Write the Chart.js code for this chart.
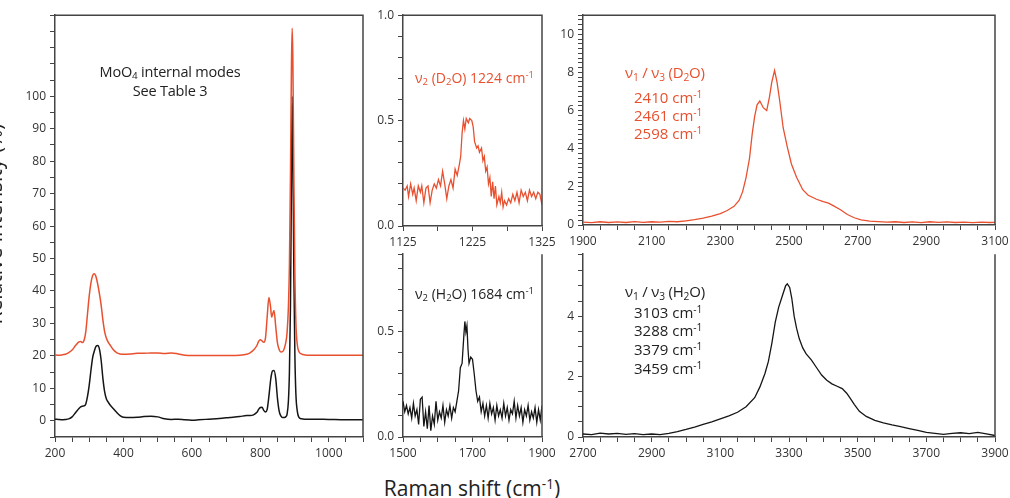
<!DOCTYPE html>
<html>
<head>
<meta charset="utf-8">
<script src="https://cdn.jsdelivr.net/npm/chart.js@4.4.0/dist/chart.umd.min.js"></script>
<style>
    body { margin: 0; background: #fff; }
    #page { position: relative; width: 1010px; height: 498px; overflow: hidden; font-family: 'Open Sans', sans-serif; color: #222; }
    .panel { position: absolute; }
    .note { position: absolute; white-space: nowrap; line-height: 1; }
    .red { color: #e8502f; }
    .note sub { font-size: 0.68em; vertical-align: -0.25em; line-height: 0; }
    .note sup { font-size: 0.68em; vertical-align: 0.5em; line-height: 0; }
    .axis-title { position: absolute; font-size: 21px; line-height: 26px; text-align: center; white-space: nowrap; color: #222; }
    .axis-title sup { font-size: 0.65em; vertical-align: 0.55em; line-height: 0; }
</style>
</head>
<body>
<div id="page">
    <div class="note" style="left:70px; top:65px; width:200px; text-align:center; font-size:14.5px; letter-spacing:-0.2px;">MoO<sub>4</sub> internal modes</div>
    <div class="note" style="left:70px; top:84px; width:200px; text-align:center; font-size:14.5px; letter-spacing:-0.2px;">See Table 3</div>

    <div class="note red" style="left:415px; top:71px; font-size:14px;">&nu;<sub>2</sub> (D<sub>2</sub>O) 1224 cm<sup>-1</sup></div>
    <div class="note" style="left:415px; top:287px; font-size:14px;">&nu;<sub>2</sub> (H<sub>2</sub>O) 1684 cm<sup>-1</sup></div>

    <div class="note red" style="left:625px; top:65px; font-size:15px; letter-spacing:-0.2px;">&nu;<sub>1</sub> / &nu;<sub>3</sub> (D<sub>2</sub>O)</div>
    <div class="note red" style="left:634px; top:90px; font-size:15px;">2410 cm<sup>-1</sup></div>
    <div class="note red" style="left:634px; top:108px; font-size:15px;">2461 cm<sup>-1</sup></div>
    <div class="note red" style="left:634px; top:126px; font-size:15px;">2598 cm<sup>-1</sup></div>

    <div class="note" style="left:625px; top:284px; font-size:15px; letter-spacing:-0.2px;">&nu;<sub>1</sub> / &nu;<sub>3</sub> (H<sub>2</sub>O)</div>
    <div class="note" style="left:634px; top:305px; font-size:15px;">3103 cm<sup>-1</sup></div>
    <div class="note" style="left:634px; top:323px; font-size:15px;">3288 cm<sup>-1</sup></div>
    <div class="note" style="left:634px; top:342px; font-size:15px;">3379 cm<sup>-1</sup></div>
    <div class="note" style="left:634px; top:361px; font-size:15px;">3459 cm<sup>-1</sup></div>

    <div class="axis-title" style="left:-136px; top:211px; width:260px; transform:rotate(-90deg);">Relative intensity (%)</div>
    <div class="axis-title" style="left:322px; top:475px; width:300px;">Raman shift (cm<sup>-1</sup>)</div>
</div>

<script>
const RED = '#e8502f';
const BLACK = '#151515';
const AXIS = '#444';

// MoO4 internal modes (left panel), shared x for both traces
const moX = [
    200, 210, 220, 230, 240, 250, 260,
    270, 275, 280, 285, 290, 295, 300, 305, 310, 315, 320, 325, 330, 335, 340, 345, 350, 355, 360,
    370, 380, 390, 400,
    420, 440, 460, 480, 500, 520, 540, 560, 580, 600, 620,
    650, 680, 710, 740,
    760, 770, 780, 790, 795, 800, 805, 810, 815, 820, 825, 830, 833, 835, 840, 845, 850, 855, 860, 865, 870, 875,
    878, 882, 885, 888, 891, 893, 895, 898, 901, 904, 908, 912, 920,
    930, 950, 1000, 1050, 1100
];
const moH2O = [
    0.5, 0.4, 0.3, 0.4, 0.6, 1.2, 2.5,
    3.8, 4.3, 4.5, 4.6, 5.2, 7.5, 11, 15.5, 19.5, 21.5, 23, 23.2, 22, 18.5, 13, 9, 6.8, 5.8, 5,
    3.8, 2.6, 1.6, 1.1,
    1.0, 1.1, 1.3, 1.4, 1.2, 0.6, 0.4, 0.5, 0.3, 0.2, 0.3,
    0.5, 0.7, 1.0, 1.3,
    1.6, 1.6, 1.8, 2.6, 3.5, 4.1, 4.2, 3.2, 2.7, 3.5, 7.5, 12.5, 14.5, 15.3, 15.5, 13, 7, 3, 1.5, 1, 1, 1.3,
    2, 6, 15, 35, 75, 100, 85, 45, 20, 8, 3, 1.2, 0.6,
    0.5, 0.5, 0.4, 0.3, 0.3
];
const moD2O = [
    20.3, 20.2, 20.3, 20.5, 21, 21.8, 23.2,
    24.3, 24.4, 24.1, 24.8, 27.5, 33, 38.5, 42.5, 44.8, 45.3, 44.3, 42, 39, 35.5, 31, 27.5, 25.5, 24.3, 23.5,
    22, 21, 20.6, 20.5,
    20.6, 20.8, 20.8, 20.9, 20.9, 20.7, 20.9, 20.6, 20.2, 20.1, 20.1,
    20.1, 20.1, 20.1, 20.2,
    20.5, 20.9, 21.8, 23.2, 24.5, 25, 24.6, 24.2, 25.5, 32, 38, 35, 32, 32.5, 34, 29, 24, 22, 21.2, 21.3, 22.3, 24.5,
    27, 35, 48, 75, 110, 121, 112, 75, 45, 30, 23.5, 21.5, 20.6,
    20.3, 20.2, 20.2, 20.2, 20.2
];

// nu2 (D2O) bend
const bendDX = [
    1125, 1128, 1131, 1133, 1136, 1139, 1141, 1144, 1147, 1150, 1152, 1155, 1158, 1161, 1164, 1167,
    1170, 1173, 1176, 1179, 1182, 1185, 1188, 1191, 1194, 1197, 1200, 1203, 1206, 1208,
    1210, 1212, 1214, 1216, 1219, 1221, 1224, 1226, 1228, 1231, 1233, 1235, 1238, 1240, 1242, 1244,
    1246, 1248, 1250, 1252, 1254, 1256, 1258, 1260, 1263, 1265, 1267, 1269, 1271, 1274, 1277, 1280,
    1283, 1286, 1289, 1292, 1295, 1298, 1301, 1304, 1307, 1310, 1313, 1316, 1319, 1322, 1325
];
const bendDY = [
    0.18, 0.17, 0.19, 0.14, 0.20, 0.15, 0.18, 0.12, 0.19, 0.16, 0.19, 0.11, 0.18, 0.19, 0.11, 0.17,
    0.20, 0.18, 0.22, 0.19, 0.26, 0.20, 0.13, 0.19, 0.22, 0.18, 0.27, 0.24, 0.29, 0.33,
    0.44, 0.50, 0.46, 0.51, 0.49, 0.51, 0.50, 0.47, 0.40, 0.37, 0.38, 0.35, 0.37, 0.31, 0.33, 0.26,
    0.28, 0.20, 0.23, 0.14, 0.21, 0.13, 0.19, 0.10, 0.14, 0.11, 0.16, 0.09, 0.12, 0.10, 0.13, 0.11,
    0.15, 0.12, 0.16, 0.11, 0.17, 0.14, 0.16, 0.12, 0.17, 0.14, 0.16, 0.13, 0.16, 0.15, 0.10
];

// nu2 (H2O) bend
const bendHX = [
    1500, 1505, 1510, 1515, 1520, 1525, 1530, 1535, 1540, 1545, 1550, 1555, 1560, 1565, 1570, 1575,
    1580, 1585, 1590, 1595, 1600, 1605, 1610, 1615, 1620, 1625, 1630, 1635, 1640, 1645, 1650, 1655,
    1660, 1665, 1670, 1675, 1678, 1681, 1684, 1687, 1690, 1695, 1700, 1705, 1710, 1715, 1720, 1725,
    1730, 1735, 1740, 1745, 1750, 1755, 1760, 1765, 1770, 1775, 1780, 1785, 1790, 1795, 1800, 1805,
    1810, 1815, 1820, 1825, 1830, 1835, 1840, 1845, 1850, 1855, 1860, 1865, 1870, 1875, 1880, 1885,
    1890, 1895, 1900
];
const bendHY = [
    0.17, 0.12, 0.15, 0.11, 0.14, 0.09, 0.16, 0.10, 0.13, 0.06, 0.18, 0.19, 0.05, 0.12, 0.04, 0.15,
    0.03, 0.10, 0.06, 0.17, 0.08, 0.12, 0.09, 0.15, 0.07, 0.13, 0.10, 0.15, 0.09, 0.14, 0.12, 0.17,
    0.22, 0.33, 0.35, 0.48, 0.55, 0.50, 0.53, 0.42, 0.35, 0.38, 0.37, 0.30, 0.22, 0.17, 0.19, 0.12,
    0.16, 0.10, 0.15, 0.09, 0.16, 0.11, 0.14, 0.08, 0.15, 0.10, 0.13, 0.09, 0.16, 0.10, 0.14, 0.08,
    0.13, 0.11, 0.17, 0.09, 0.15, 0.10, 0.14, 0.07, 0.13, 0.10, 0.15, 0.08, 0.12, 0.09, 0.14, 0.07,
    0.13, 0.08, 0.15
];

// nu1 / nu3 (D2O) stretch
const stretchDX = [
    1900, 1925, 1950, 1975, 2000, 2025, 2050, 2075, 2100, 2125, 2150, 2175, 2200, 2225, 2250, 2275,
    2300, 2320, 2340, 2355, 2365, 2375, 2385, 2393, 2400, 2407, 2415, 2425, 2435, 2443, 2450, 2458,
    2465, 2473, 2483, 2495, 2507, 2522, 2540, 2556, 2580, 2600, 2615, 2630, 2650, 2670, 2690, 2710,
    2735, 2760, 2785, 2810, 2835, 2860, 2885, 2910, 2935, 2960, 2985, 3010, 3035, 3060, 3085, 3100
];
const stretchDY = [
    0.15, 0.12, 0.17, 0.13, 0.16, 0.13, 0.18, 0.14, 0.17, 0.15, 0.19, 0.17, 0.22, 0.28, 0.36, 0.47,
    0.6, 0.76, 0.98, 1.3, 1.75, 2.5, 3.5, 4.8, 5.7, 6.3, 6.5, 6.15, 6.0, 6.7, 7.5, 8.1,
    7.5, 6.5, 5.1, 4.1, 3.2, 2.5, 1.85, 1.56, 1.35, 1.22, 1.15, 1.0, 0.8, 0.55, 0.38, 0.27,
    0.2, 0.18, 0.15, 0.17, 0.13, 0.16, 0.12, 0.17, 0.14, 0.16, 0.13, 0.15, 0.12, 0.15, 0.13, 0.14
];

// nu1 / nu3 (H2O) stretch
const stretchHX = [
    2700, 2725, 2750, 2775, 2800, 2825, 2850, 2875, 2900, 2925, 2950, 2975, 3000, 3025, 3050, 3075,
    3100, 3125, 3150, 3175, 3200, 3215, 3230, 3240, 3250, 3260, 3270, 3280, 3290, 3295, 3302, 3308,
    3315, 3322, 3330, 3340, 3350, 3365, 3380, 3395, 3410, 3425, 3440, 3455, 3468, 3480, 3490, 3505,
    3525, 3550, 3575, 3600, 3625, 3650, 3675, 3700, 3725, 3750, 3775, 3800, 3825, 3850, 3875, 3900
];
const stretchHY = [
    0.10, 0.08, 0.13, 0.10, 0.12, 0.09, 0.11, 0.08, 0.10, 0.08, 0.12, 0.18, 0.25, 0.33, 0.42, 0.50,
    0.60, 0.70, 0.82, 1.0, 1.3, 1.65, 2.1, 2.5, 3.1, 3.8, 4.3, 4.65, 5.0, 5.07, 4.95, 4.6,
    4.0, 3.6, 3.25, 2.95, 2.75, 2.55, 2.3, 2.05, 1.88, 1.76, 1.68, 1.6, 1.45, 1.25, 1.08, 0.85,
    0.68, 0.55, 0.47, 0.40, 0.34, 0.28, 0.22, 0.15, 0.12, 0.09, 0.12, 0.14, 0.11, 0.15, 0.10, 0.05
];

// tick labels shown on each axis (all other ticks are unlabeled marks)
const moXLabels = [200, 400, 600, 800, 1000];
const moYLabels = [0, 10, 20, 30, 40, 50, 60, 70, 80, 90, 100];
const bendDXLabels = [1125, 1225, 1325];
const bendHXLabels = [1500, 1700, 1900];
const bendYLabels = [0, 0.5, 1.0];
const stretchDXLabels = [1900, 2100, 2300, 2500, 2700, 2900, 3100];
const stretchHXLabels = [2700, 2900, 3100, 3300, 3500, 3700, 3900];
const stretchDYLabels = [0, 2, 4, 6, 8, 10];
const stretchHYLabels = [0, 2, 4];

// draws right edge (and top edge if asked) of the plot box
const framePlugin = {
    id: 'frame',
    afterDraw(chart, args, opts) {
        const { ctx, chartArea: a } = chart;
        ctx.save();
        ctx.strokeStyle = AXIS;
        ctx.lineWidth = 1.5;
        ctx.beginPath();
        ctx.moveTo(a.right, a.bottom);
        ctx.lineTo(a.right, a.top);
        if (opts.top) {
            ctx.lineTo(a.left, a.top);
        }
        ctx.stroke();
        ctx.restore();
    },
};

function pts(xs, ys) {
    return xs.map((x, i) => ({ x: x, y: ys[i] }));
}

function hasLabel(list, v) {
    return list.some(l => Math.abs(l - v) < 1e-6);
}

function axis(min, max, step, labels, fmt) {
    return {
        type: 'linear',
        min: min,
        max: max,
        grid: { drawOnChartArea: false, tickLength: 5, color: AXIS, lineWidth: 1 },
        border: { display: true, color: AXIS, width: 1.5 },
        ticks: {
            stepSize: step,
            autoSkip: false,
            maxRotation: 0,
            padding: 4,
            color: '#333',
            font: { family: "'Open Sans', sans-serif", size: 12 },
            callback: v => (hasLabel(labels, v) ? fmt(v) : ''),
        },
    };
}

const asInt = v => String(Math.round(v));
const asOneDp = v => v.toFixed(1);

function renderPanel(box, datasets, xAxis, yAxis, top) {
    const axisW = 44, padT = 10, padR = 20, axisH = 30, padB = 2;
    const wrap = document.createElement('div');
    wrap.className = 'panel';
    wrap.style.left = (box.L - axisW) + 'px';
    wrap.style.top = (box.T - padT) + 'px';
    const canvas = document.createElement('canvas');
    canvas.width = axisW + (box.R - box.L) + padR;
    canvas.height = padT + (box.B - box.T) + axisH + padB;
    wrap.appendChild(canvas);
    document.getElementById('page').prepend(wrap);

    xAxis.afterFit = s => { s.height = axisH; };
    yAxis.afterFit = s => { s.width = axisW; };

    new Chart(canvas.getContext('2d'), {
        type: 'line',
        data: { datasets: datasets },
        options: {
            responsive: false,
            animation: false,
            layout: { padding: { top: padT, right: padR, bottom: padB, left: 0 } },
            elements: { point: { radius: 0 } },
            plugins: {
                legend: { display: false },
                tooltip: { enabled: false },
                frame: { top: top },
            },
            scales: { x: xAxis, y: yAxis },
        },
        plugins: [framePlugin],
    });
}

function trace(xs, ys, color, width, smooth) {
    return {
        data: pts(xs, ys),
        borderColor: color,
        borderWidth: width,
        fill: false,
        cubicInterpolationMode: smooth ? 'monotone' : 'default',
        tension: 0,
    };
}

(function () {
    renderPanel(
        { L: 55, T: 14, R: 363, B: 437 },
        [trace(moX, moD2O, RED, 1.5, true), trace(moX, moH2O, BLACK, 1.5, true)],
        axis(200, 1100, 50, moXLabels, asInt),
        axis(-5, 125, 5, moYLabels, asInt),
        true
    );
    renderPanel(
        { L: 403, T: 14, R: 542, B: 226 },
        [trace(bendDX, bendDY, RED, 1.3, false)],
        axis(1125, 1325, 50, bendDXLabels, asInt),
        axis(0, 1, 0.1, bendYLabels, asOneDp),
        true
    );
    renderPanel(
        { L: 403, T: 253, R: 542, B: 437 },
        [trace(bendHX, bendHY, BLACK, 1.3, false)],
        axis(1500, 1900, 50, bendHXLabels, asInt),
        axis(0, 0.87, 0.1, bendYLabels, asOneDp),
        false
    );
    renderPanel(
        { L: 583, T: 14, R: 995, B: 225 },
        [trace(stretchDX, stretchDY, RED, 1.3, false)],
        axis(1900, 3100, 50, stretchDXLabels, asInt),
        axis(0, 11, 0.25, stretchDYLabels, asInt),
        true
    );
    renderPanel(
        { L: 583, T: 253, R: 995, B: 437 },
        [trace(stretchHX, stretchHY, BLACK, 1.3, false)],
        axis(2700, 3900, 50, stretchHXLabels, asInt),
        axis(0, 6.05, 0.5, stretchHYLabels, asInt),
        false
    );
})();
</script>
</body>
</html>
